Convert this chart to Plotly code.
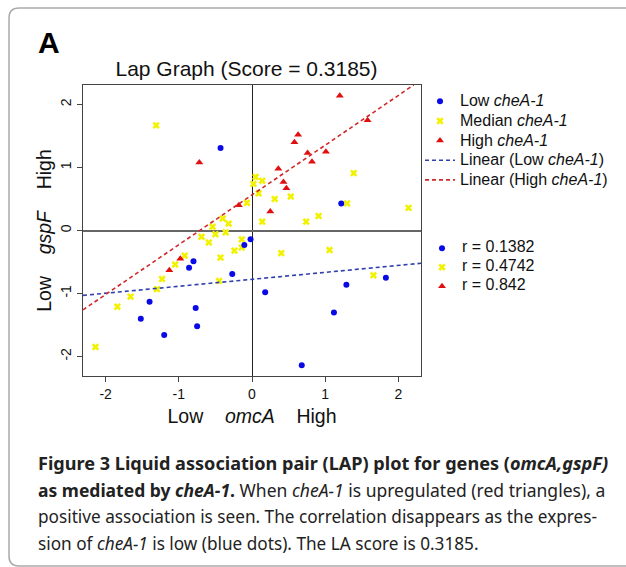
import plotly.graph_objects as go

# ---------------- data ----------------
low_x = [-0.43, -0.02, 1.22, -0.105, -0.80, -0.86, -0.27, -1.40, -1.52, -0.77, -0.75, -1.20, 0.18, 1.29, 1.12, 1.83, 0.68]
low_y = [1.31, -0.14, 0.43, -0.23, -0.49, -0.59, -0.69, -1.13, -1.40, -1.23, -1.52, -1.66, -0.98, -0.86, -1.30, -0.75, -2.14]

med_x = [-1.31, 0.05, 0.02, 0.09, -0.07, -0.40, -0.32, -0.54, -0.69, -0.50, -0.36, -0.14, 0.14, 0.31, 0.53, 1.39, 1.30, 2.14,
         0.14, 0.74, 0.91, -0.59, -0.24, -0.14, -0.92, -1.05, -0.43, -0.45, -1.23, -1.30, -1.66, -1.84, -2.14, 0.40, 1.06, 1.66]
med_y = [1.67, 0.85, 0.74, 0.59, 0.44, 0.19, 0.11, 0.06, -0.10, -0.06, -0.03, -0.14, 0.79, 0.50, 0.54, 0.91, 0.43, 0.36,
         0.14, 0.14, 0.23, -0.19, -0.32, -0.27, -0.40, -0.54, -0.43, -0.80, -0.77, -0.93, -1.05, -1.21, -1.85, -0.36, -0.31, -0.71]

high_x = [-0.72, -0.18, 1.20, 1.58, 0.63, 0.58, 0.76, 1.01, 0.82, 0.36, 0.43, 0.47, 0.25, -0.98, -1.13]
high_y = [1.08, 0.40, 2.14, 1.75, 1.52, 1.40, 1.23, 1.25, 1.09, 0.98, 0.77, 0.67, 0.30, -0.45, -0.63]

low_fit_x = [-2.31, 2.31]
low_fit_y = [-1.03, -0.52]
high_fit_x = [-2.31, 2.21]
high_fit_y = [-1.26, 2.31]

r_values = [0.1382, 0.4742, 0.842]

tick_vals = [-2, -1, 0, 1, 2]
tick_labels = ["-2", "-1", "0", "1", "2"]
axis_range = [-2.31, 2.31]

# ---------------- styling ----------------
FONT = "Liberation Sans, Arial, sans-serif"
CAP_FONT = "Noto Sans, Open Sans, sans-serif"
BLUE = "#0a0ae6"
YELLOW = "#f2f200"
RED = "#e01010"

L, R, T, B = 83, 205, 85, 191
W, H = 626, 567
PW, PH = W - L - R, H - T - B


def pxx(p):
    return (p - L) / PW


def pxy(p):
    return (H - B - p) / PH


def big(s):
    return f'<span style="font-size:16px">{s}</span>'


fig = go.Figure()

fig.add_trace(go.Scatter(x=med_x, y=med_y, mode="markers", name=big("Median <i>cheA-1</i>"),
                         legendrank=2,
                         marker=dict(symbol="x", size=6.5, color=YELLOW, line=dict(width=0))))
fig.add_trace(go.Scatter(x=low_x, y=low_y, mode="markers", name=big("Low <i>cheA-1</i>"),
                         legendrank=1,
                         marker=dict(symbol="circle", size=6, color=BLUE, line=dict(width=0))))
fig.add_trace(go.Scatter(x=high_x, y=high_y, mode="markers", name=big("High <i>cheA-1</i>"),
                         legendrank=3,
                         marker=dict(symbol="triangle-up", size=7, color=RED, line=dict(width=0))))
fig.add_trace(go.Scatter(x=low_fit_x, y=low_fit_y, mode="lines", name=big("Linear (Low <i>cheA-1</i>)"),
                         legendrank=4,
                         line=dict(color="#3040b0", width=1.6, dash="4px,3px")))
fig.add_trace(go.Scatter(x=high_fit_x, y=high_fit_y, mode="lines", name=big("Linear (High <i>cheA-1</i>)"),
                         legendrank=5,
                         line=dict(color="#d02828", width=1.6, dash="4px,3px")))

# r-value legend (second legend)
for r, col, sym, sz in zip(r_values, [BLUE, YELLOW, RED], ["circle", "x", "triangle-up"], [6, 6.5, 7]):
    fig.add_trace(go.Scatter(x=[None], y=[None], mode="markers", name=big(f"r = {r}"),
                             legend="legend2",
                             marker=dict(symbol=sym, size=sz, color=col, line=dict(width=0))))

axis_common = dict(range=axis_range, showgrid=False, ticks="outside", ticklen=5, tickcolor="#444",
                   tickwidth=1, showline=True, mirror=True, linecolor="#444", linewidth=1,
                   tickvals=tick_vals, ticktext=tick_labels,
                   tickfont=dict(family=FONT, size=14, color="#111"), zeroline=True)

fig.update_xaxes(**axis_common, zerolinecolor="#222", zerolinewidth=1,
                 title=dict(text="Low\u00a0\u00a0\u00a0\u00a0<i>omcA</i>\u00a0\u00a0\u00a0\u00a0High",
                            font=dict(family=FONT, size=19.5, color="#111"), standoff=8))
fig.update_yaxes(**axis_common, tickangle=-90, zerolinecolor="#666", zerolinewidth=2,
                 title=dict(text="Low\u00a0\u00a0\u00a0\u00a0<i>gspF</i>\u00a0\u00a0\u00a0\u00a0High",
                            font=dict(family=FONT, size=19.5, color="#111"), standoff=1))

caption = [
    "<b>Figure 3 Liquid association pair (LAP) plot for genes (<i>omcA,gspF)</i></b>",
    "<b>as mediated by <i>cheA-1</i>.</b> When <i>cheA-1</i> is upregulated (red triangles), a",
    "positive association is seen. The correlation disappears as the expres-",
    "sion of <i>cheA-1</i> is low (blue dots). The LA score is 0.3185.",
]
cap_y = [463, 490, 516, 543]
cap_size = [18.1, 17.5, 17.2, 17.2]
annotations = [dict(text="<b>A</b>", x=pxx(36), y=pxy(42), xref="paper", yref="paper",
                    xanchor="left", yanchor="middle", showarrow=False,
                    font=dict(family=FONT, size=30, color="#000"))]
for line, yy, fs in zip(caption, cap_y, cap_size):
    annotations.append(dict(text=line, x=pxx(36), y=pxy(yy), xref="paper", yref="paper",
                            xanchor="left", yanchor="middle", showarrow=False,
                            font=dict(family=CAP_FONT, size=fs, color="#222")))

# rounded outer frame
rad = 10
x0, y0, x1, y1 = 9, 8, 640, 566
path = (f"M {pxx(x0)},{pxy(y0 + rad)} Q {pxx(x0)},{pxy(y0)} {pxx(x0 + rad)},{pxy(y0)} "
        f"L {pxx(x1)},{pxy(y0)} L {pxx(x1)},{pxy(y1)} L {pxx(x0 + rad)},{pxy(y1)} "
        f"Q {pxx(x0)},{pxy(y1)} {pxx(x0)},{pxy(y1 - rad)} Z")

fig.update_layout(
    width=W, height=H,
    margin=dict(l=L, r=R, t=T, b=B),
    paper_bgcolor="white", plot_bgcolor="white",
    title=dict(text="Lap Graph (Score = 0.3185)", x=pxx(246.5), xref="paper", xanchor="center",
               y=1 - 69 / H, yref="container", yanchor="middle",
               font=dict(family=FONT, size=21, color="#111")),
    font=dict(family=FONT, color="#111"),
    legend=dict(x=pxx(420), y=pxy(86.5), xref="paper", yref="paper", xanchor="left", yanchor="top",
                font=dict(family=FONT, size=12.8, color="#111"), bgcolor="rgba(0,0,0,0)",
                tracegroupgap=0, itemwidth=30),
    legend2=dict(x=pxx(422), y=pxy(233.7), xref="paper", yref="paper", xanchor="left", yanchor="top",
                 font=dict(family=FONT, size=11, color="#111"), bgcolor="rgba(0,0,0,0)",
                 tracegroupgap=0, itemwidth=30),
    annotations=annotations,
    shapes=[dict(type="path", path=path, xref="paper", yref="paper",
                 line=dict(color="#aaaaaa", width=1.5), fillcolor="rgba(0,0,0,0)", layer="below")],
)

fig.write_html("out.html", config={"displayModeBar": False},
               post_script="document.body.style.margin='0';")
